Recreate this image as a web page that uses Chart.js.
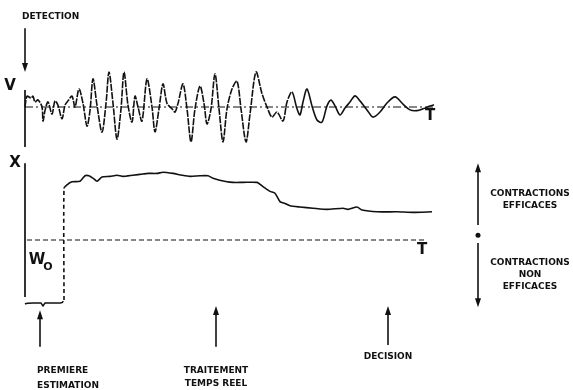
<!DOCTYPE html>
<html>
<head>
<meta charset="utf-8">
<script src="https://cdn.jsdelivr.net/npm/chart.js@4.4.1/dist/chart.umd.min.js"></script>
<style>
  html, body { margin: 0; padding: 0; background: #fff; }
</style>
</head>
<body>
<canvas id="emg" width="573" height="390"></canvas>
<script>
// time in samples, 0 = detection, T_END = T
const T_END = 410;
const W0 = 1.0;

// top trace: raw signal V
const tV = [0, 2, 6, 8, 10, 13, 17, 18, 20, 23, 27, 30, 33, 37, 40, 43, 47, 50, 54, 58,
  62, 65, 68, 72, 77, 81, 84, 88, 92, 96, 99, 103, 107, 110, 113, 117, 122, 127, 130, 134,
  138, 142, 147, 150, 153, 158, 162, 166, 170, 175, 179, 182, 186, 190, 194, 198, 202, 207, 212, 216,
  221, 225, 231, 237, 242, 247, 252, 258, 262, 267, 272, 275, 278, 282, 287, 292, 297, 302, 306, 310,
  315, 320, 325, 330, 335, 342, 348, 355, 362, 370, 378, 385, 392, 398, 405, 409];
const vSignal = [0, 0.3, 0.25, 0.3, 0.14, 0.2, 0, -0.39, -0.1, 0.14, -0.2, 0.17, 0.05, -0.33, 0.05, 0.17, 0.3, 0, 0.5, 0.1,
  -0.53, -0.1, 0.78, 0.05, -0.7, 0.1, 0.97, 0.1, -0.89, -0.05, 0.97, 0.05, -0.42, 0.3, 0, -0.39, 0.78, 0, -0.69, -0.05,
  0.64, 0.1, -0.05, -0.14, 0.1, 0.64, -0.05, -0.97, -0.05, 0.58, 0.1, -0.47, -0.05, 0.92, -0.05, -0.97, -0.05, 0.5, 0.72, -0.05,
  -0.97, -0.2, 0.97, 0.37, 0, -0.28, -0.14, -0.39, 0.14, 0.42, -0.05, -0.22, 0.14, 0.5, 0.03, -0.36, -0.42, 0.03, 0.19, 0.03,
  -0.22, -0.03, 0.14, 0.31, 0.17, -0.08, -0.28, -0.14, 0.11, 0.28, 0.08, -0.08, -0.1, -0.05, 0.03, 0.06];

// bottom trace: estimate X (first estimate after the W0 window)
const tX = [39, 39, 42, 47, 55, 60, 64, 68, 72, 77, 85, 92, 98, 108, 118, 123, 132, 138, 148, 157,
  165, 175, 183, 188, 202, 208, 218, 232, 238, 245, 250, 255, 260, 265, 275, 288, 302, 318, 323, 332,
  337, 352, 372, 388, 407];
const xValues = [0, 1.86, 1.92, 1.97, 1.98, 2.07, 2.07, 2.03, 1.98, 2.05, 2.06, 2.08, 2.06, 2.08, 2.1, 2.11, 2.11, 2.13, 2.11, 2.08,
  2.06, 2.07, 2.07, 2.03, 1.97, 1.96, 1.96, 1.96, 1.89, 1.81, 1.78, 1.64, 1.61, 1.57, 1.55, 1.53, 1.51, 1.53, 1.51, 1.55,
  1.5, 1.47, 1.47, 1.46, 1.47];

const INK = '#111';
const pts = (xs, ys) => xs.map((x, i) => ({ x: x, y: ys[i] }));

const notes = {
  id: 'notes',
  afterDatasetsDraw(chart) {
    const { ctx, scales: { x, yV, yX } } = chart;
    const px = v => x.getPixelForValue(v);

    function arrow(xv, y1, y2, sc) {
      const ax = px(xv), a = sc.getPixelForValue(y1), b = sc.getPixelForValue(y2);
      const dir = b > a ? 1 : -1;
      ctx.beginPath();
      ctx.moveTo(ax, a);
      ctx.lineTo(ax, b - dir * 6);
      ctx.stroke();
      ctx.beginPath();
      ctx.moveTo(ax, b);
      ctx.lineTo(ax - 3, b - dir * 9);
      ctx.lineTo(ax + 3, b - dir * 9);
      ctx.closePath();
      ctx.fill();
    }
    function text(s, xv, yv, sc, font, align) {
      ctx.font = font;
      ctx.textAlign = align || 'center';
      ctx.textBaseline = 'middle';
      ctx.fillText(s, px(xv), sc.getPixelForValue(yv));
    }

    ctx.save();
    ctx.strokeStyle = INK;
    ctx.fillStyle = INK;
    ctx.lineWidth = 1.6;

    // arrows
    arrow(0, 2.19, 0.97, yV);
    arrow(15, -0.78, -0.17, yX);
    arrow(191, -0.78, -0.1, yX);
    arrow(363, -0.75, -0.1, yX);
    arrow(453, 1.25, 2.28, yX);
    arrow(453, 0.95, -0.12, yX);
    ctx.beginPath();
    ctx.arc(px(453), yX.getPixelForValue(1.08), 2.5, 0, Math.PI * 2);
    ctx.fill();

    // brace under the W0 window
    const by = yX.getPixelForValue(-0.05);
    ctx.lineWidth = 1.4;
    ctx.beginPath();
    ctx.moveTo(px(0), by + 1);
    ctx.quadraticCurveTo(px(2), by, px(8), by);
    ctx.lineTo(px(16), by);
    ctx.lineTo(px(18), by + 3);
    ctx.lineTo(px(20), by);
    ctx.lineTo(px(35), by);
    ctx.quadraticCurveTo(px(38), by, px(38), by - 2);
    ctx.stroke();

    // labels
    const small = 'bold 9px "DejaVu Sans"';
    const big = 'bold 15px "DejaVu Sans"';
    text('DETECTION', -3, 2.5, yV, small, 'left');
    text('V', -15, 0.58, yV, big);
    text('T', 405, -0.25, yV, big);
    text('X', -10, 2.28, yX, big);
    text('T', 397, 0.83, yX, big);
    text('W', 12, 0.67, yX, big);
    text('O', 23, 0.55, yX, 'bold 11px "DejaVu Sans"');
    text('PREMIERE', 12, -1.17, yX, small, 'left');
    text('ESTIMATION', 12, -1.42, yX, small, 'left');
    text('TRAITEMENT', 191, -1.17, yX, small);
    text('TEMPS REEL', 191, -1.4, yX, small);
    text('DECISION', 363, -0.95, yX, small);
    text('CONTRACTIONS', 505, 1.78, yX, small);
    text('EFFICACES', 505, 1.57, yX, small);
    text('CONTRACTIONS', 505, 0.63, yX, small);
    text('NON', 505, 0.43, yX, small);
    text('EFFICACES', 505, 0.23, yX, small);
    ctx.restore();
  }
};

new Chart(document.getElementById('emg'), {
  type: 'line',
  data: {
    datasets: [
      {
        // V axis
        data: [{ x: 0, y: 0.47 }, { x: 0, y: -1.11 }],
        yAxisID: 'yV', borderColor: INK, borderWidth: 1.7, pointRadius: 0
      },
      {
        // zero line of the signal
        data: [{ x: 0, y: 0 }, { x: T_END, y: 0 }],
        yAxisID: 'yV', borderColor: INK, borderWidth: 1.1, borderDash: [8, 3, 2, 3], pointRadius: 0
      },
      {
        data: pts(tV, vSignal),
        yAxisID: 'yV', borderColor: INK, borderWidth: 1.6, pointRadius: 0, tension: 0.3,
        segment: { borderDash: c => c.p0.parsed.x < 265 ? [7, 1.2] : undefined }
      },
      {
        // X axis
        data: [{ x: 0, y: 2.28 }, { x: 0, y: 0.05 }],
        yAxisID: 'yX', borderColor: INK, borderWidth: 1.7, pointRadius: 0
      },
      {
        // threshold W0
        data: [{ x: 2, y: W0 }, { x: T_END - 8, y: W0 }],
        yAxisID: 'yX', borderColor: INK, borderWidth: 1.2, borderDash: [5, 3], pointRadius: 0
      },
      {
        data: pts(tX, xValues),
        yAxisID: 'yX', borderColor: INK, borderWidth: 1.6, pointRadius: 0, tension: 0.2,
        segment: { borderDash: c => c.p0DataIndex === 0 ? [4, 3] : undefined }
      }
    ]
  },
  options: {
    responsive: false,
    animation: false,
    devicePixelRatio: 1,
    layout: { padding: 0 },
    plugins: { legend: { display: false }, tooltip: { enabled: false } },
    scales: {
      x: { type: 'linear', min: -25, max: 548, display: false },
      yV: { type: 'linear', position: 'left', min: -283 / 36, max: 107 / 36, display: false },
      yX: { type: 'linear', position: 'left', min: -1.5, max: 5, display: false }
    }
  },
  plugins: [notes]
});
</script>
</body>
</html>
